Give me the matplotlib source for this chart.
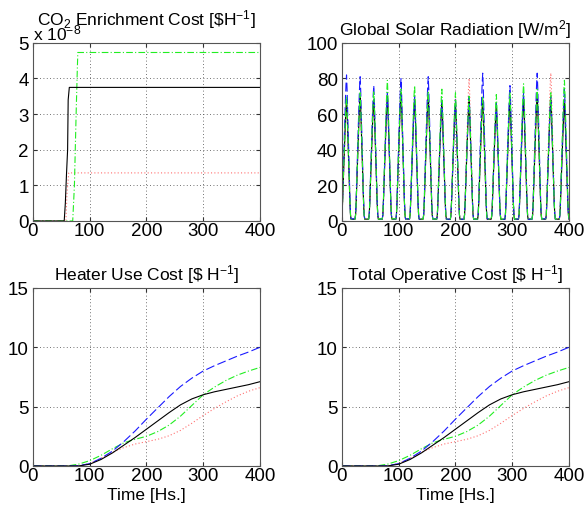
import numpy as np
import matplotlib
matplotlib.use("Agg")
import matplotlib.pyplot as plt

plt.rcParams['font.family'] = ['Liberation Sans', 'DejaVu Sans']
plt.rcParams['mathtext.fontset'] = 'custom'
plt.rcParams['mathtext.rm'] = 'Liberation Sans'
plt.rcParams['mathtext.it'] = 'Liberation Sans'

# ---- CO2 enrichment cost (x 1e-8) ----
co2_black_t = [0, 55, 57, 59, 61, 62, 64, 400]
co2_black_v = [0, 0, 0.5, 1.3, 2.0, 3.4, 3.75, 3.75]
co2_red_t = [0, 58, 60, 63, 400]
co2_red_v = [0, 0, 0.8, 1.35, 1.35]
co2_green_t = [0, 70, 73, 76, 78, 79, 400]
co2_green_v = [0, 0, 1.0, 3.0, 4.2, 4.73, 4.73]

# ---- global solar radiation: daily peaks per series (17 days) ----
peak_black = [68, 70, 68, 70, 72, 68, 70, 66, 66, 67, 68, 64, 67, 68, 70, 68, 66]
peak_blue = [82, 81, 76, 72, 80, 70, 81, 68, 68, 70, 83, 66, 76, 72, 83, 70, 74]
peak_green = [70, 72, 73, 79, 74, 76, 73, 74, 72, 70, 70, 71, 72, 77, 74, 72, 79]
peak_red = [66, 68, 66, 68, 70, 67, 70, 65, 70, 80, 66, 64, 66, 68, 70, 83, 70]
# hourly shape of a day, fraction of the peak
day_shape = [0.05, 0.15, 0.28, 0.42, 0.56, 0.70, 0.82, 0.93, 1.0, 0.90, 0.75, 0.60,
             0.45, 0.30, 0.15, 0.05, 0.015, 0.015, 0.015, 0.015, 0.015, 0.015, 0.015, 0.015]

# ---- heater use / total operative cost ----
cost_t = [0, 60, 80, 100, 120, 140, 160, 180, 200, 220, 240, 260, 280, 300, 320, 340, 360, 380, 400]
cost_black = [0, 0, 0, 0.15, 0.55, 1.1, 1.75, 2.4, 3.1, 3.8, 4.5, 5.15, 5.65, 6.0, 6.25, 6.45, 6.65, 6.85, 7.1]
cost_blue = [0, 0, 0.02, 0.2, 0.65, 1.25, 2.05, 2.95, 3.95, 4.9, 5.85, 6.7, 7.4, 8.0, 8.45, 8.85, 9.25, 9.6, 10.0]
cost_green = [0, 0, 0.15, 0.45, 0.9, 1.45, 1.95, 2.25, 2.5, 2.9, 3.45, 4.2, 5.1, 6.0, 6.65, 7.2, 7.65, 8.0, 8.3]
cost_red = [0, 0, 0, 0.2, 0.65, 1.15, 1.55, 1.85, 2.05, 2.25, 2.55, 3.0, 3.6, 4.25, 4.85, 5.4, 5.9, 6.3, 6.6]

FS = 12.5
TFS = 13.5
LW = 0.8
styles = {
    'black': dict(color='black', ls='-', lw=LW),
    'blue': dict(color='#1a1aff', ls=(0, (8, 3)), lw=LW),
    'green': dict(color='#22ee22', ls=(0, (6, 2, 1, 2)), lw=LW),
    'red': dict(color='#ff7070', ls=(0, (1, 2)), lw=LW),
}


def solar(peaks):
    vals = np.concatenate([np.array(day_shape) * p for p in peaks])
    return vals[:401]


def style_axes(ax, ylim, yticks):
    ax.set_xlim(0, 400)
    ax.set_ylim(*ylim)
    ax.set_xticks([0, 100, 200, 300, 400])
    ax.set_yticks(yticks)
    ax.grid(True, color='#444444', ls=(0, (1, 3)), lw=0.6)
    ax.tick_params(direction='in', top=True, right=True, labelsize=TFS, length=3,
                   color='#333333')
    ax.tick_params(axis='x', pad=1)
    ax.tick_params(axis='y', pad=3)
    for s in ax.spines.values():
        s.set_color('#555555')
        s.set_linewidth(0.8)


fig = plt.figure(figsize=(5.85, 5.06), dpi=100)
w, h = 0.388, 0.352
ax1 = fig.add_axes([0.0564, 0.5613, w, h])
ax2 = fig.add_axes([0.5846, 0.5613, w, h])
ax3 = fig.add_axes([0.0564, 0.0771, w, h])
ax4 = fig.add_axes([0.5846, 0.0771, w, h])

# CO2 enrichment
ax1.plot(co2_red_t, co2_red_v, **styles['red'])
ax1.plot(co2_green_t, co2_green_v, **styles['green'])
ax1.plot(co2_black_t, co2_black_v, **styles['black'])
style_axes(ax1, (0, 5), [0, 1, 2, 3, 4, 5])
ax1.set_title(r'CO$_2$ Enrichment Cost [\$H$^{-1}$]', fontsize=FS, pad=13)
ax1.text(0.0, 1.005, r'x 10$^{-8}$', transform=ax1.transAxes, fontsize=FS,
         ha='left', va='bottom')

# solar radiation
hours = np.arange(401)
ax2.plot(hours, solar(peak_red), **styles['red'])
ax2.plot(hours, solar(peak_black), **styles['black'])
ax2.plot(hours, solar(peak_blue), **styles['blue'])
ax2.plot(hours, solar(peak_green), **styles['green'])
style_axes(ax2, (0, 100), [0, 20, 40, 60, 80, 100])
ax2.set_title(r'Global Solar Radiation [W/m$^2$]', fontsize=FS, pad=6)

for ax, title in [(ax3, r'Heater Use Cost [\$ H$^{-1}$]'),
                  (ax4, r'Total Operative Cost [\$ H$^{-1}$]')]:
    ax.plot(cost_t, cost_red, **styles['red'])
    ax.plot(cost_t, cost_green, **styles['green'])
    ax.plot(cost_t, cost_blue, **styles['blue'])
    ax.plot(cost_t, cost_black, **styles['black'])
    style_axes(ax, (0, 15), [0, 5, 10, 15])
    ax.set_title(title, fontsize=FS, pad=6)
    ax.set_xlabel('Time [Hs.]', fontsize=FS, labelpad=2)

fig.savefig('out.png', dpi=100)
